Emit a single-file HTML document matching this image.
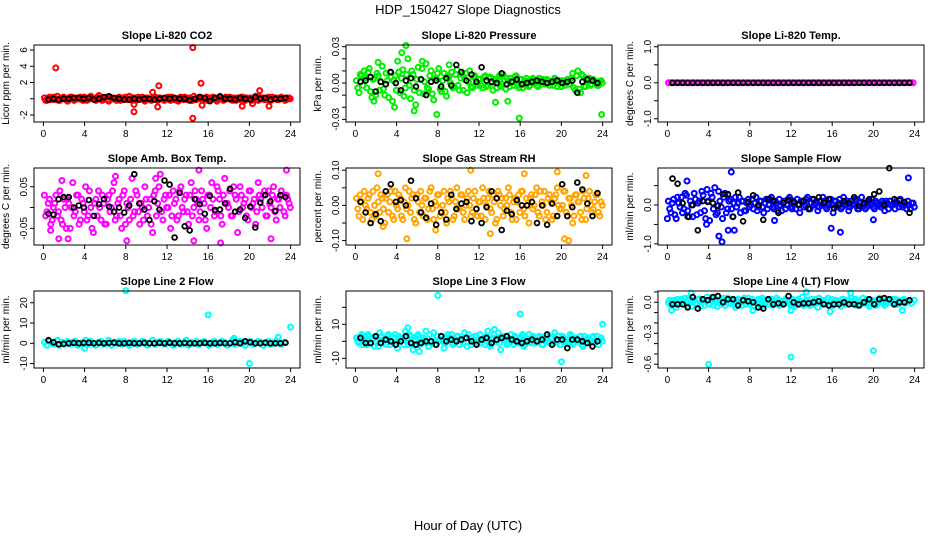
<!DOCTYPE html>
<html><head><meta charset="utf-8"><style>
html,body{margin:0;padding:0;background:#fff;}
svg{display:block;font-family:"Liberation Sans",sans-serif;}
</style></head><body>
<svg id="chart" width="936" height="540" viewBox="0 0 936 540">
<text x="468" y="14" text-anchor="middle" font-size="13">HDP_150427  Slope Diagnostics</text>
<text x="468" y="530" text-anchor="middle" font-size="13">Hour of Day (UTC)</text>
</svg>
<script>
const xTicks = [0,4,8,12,16,20,24];

const co2Band = [0.1,-0.2,0.2,0,-0.1,0.3,-0.2,0.1,0,-0.3,0.2,0.1,-0.1,0,0.2,-0.2,0.1,-0.1,0.3,0,-0.2,0.1,0,-0.1,0.2,-0.3,0.1,0,-0.2,0.2,0.1,-0.1,0,0.3,-0.2,0.1,-0.1,0,0.2,-0.3,0.1,-0.1,0,0.2,-0.2,0.1,0,-0.1,0.2,-0.2,0.1,0,-0.3,0.2,-0.1,0.1,0,-0.2,0.3,-0.1,0,0.1,-0.2,0.2,0,-0.1,0.1,-0.3,0.2,0,-0.1,0.1,0.2,-0.2,0,0.1,-0.1,0.2,-0.2,0,0.1,-0.1,0.3,-0.2,0,0.1,-0.1,0.2,-0.2,0,0.1,-0.1,0.2,0,-0.1,0.1];
const co2Band2 = [-0.2,0.1,-0.1,0.2,0,-0.2,0.1,0.2,-0.1,0,0.2,-0.2,0.1,0,-0.1,0.2,-0.2,0,0.1,-0.1,0.2,0,-0.2,0.1,-0.1,0.2,0,-0.1,0.1,-0.2,0,0.2,-0.1,0,0.1,-0.2,0.2,0,-0.1,0.1,0,-0.2,0.2,-0.1,0.1,0,-0.2,0.1,0,0.2,-0.1,-0.2,0.1,0,0.2,-0.1,0.1,-0.2,0,0.1,0.2,-0.1,0,-0.2,0.1,0.2,-0.1,0,0.1,-0.2,0.2,0,-0.1,0.1,-0.2,0,0.2,-0.1,0.1,0,-0.2,0.1,-0.1,0.2,0,-0.1,0.1,-0.2,0.2,0,-0.1,0.1,0,-0.2,0.1,0];
const co2OutHours = [1.2,14.5,15.3,11.2,10.6,21,8.8,14.5,11.1,8.8,19.3,21.9,15.4,20.3,5.4];
const co2OutVals = [3.8,6.3,1.9,1.6,0.8,1,-1.6,-2.4,-1,-0.7,-0.9,-0.9,-0.8,-0.6,0.4];
const co2Black = [-0.1,0,-0.1,0,0,0.1,0.1,0,0.1,-0.1,0,0.2,0.3,0.1,0,-0.1,-0.1,0,-0.1,0,0,-0.1,0,0.1,0,0.1,0,0,-0.2,0,0.2,0.1,-0.3,0.1,0.3,0,0,-0.1,0.1,0,-0.1,0.2,0,0.1,-0.1,0,0,0.1];

const presBand = [0.002,-0.008,0.006,0.010,-0.004,0.012,-0.012,0.004,0.008,-0.006,0.014,-0.010,0.002,0.009,-0.015,0.006,0.018,-0.008,0.011,-0.004,0.020,-0.013,0.007,-0.018,0.013,0.003,-0.009,0.016,-0.005,0.010,-0.014,0.004,0.012,-0.007,0.008,-0.011,0.005,0.009,-0.003,0.011,-0.006,0.007,0.003,-0.008,0.010,-0.004,0.006,-0.002,0.003,-0.004,0.006,-0.002,0.005,-0.006,0.002,0.004,-0.003,0.007,-0.005,0.002,0.004,-0.002,0.006,-0.004,0.003,-0.001,0.004,-0.003,0.002,0.003,-0.002,0.004,-0.001,0.002,0.003,-0.002,0.001,0.004,-0.003,0.002,0.001,-0.002,0.003,-0.001,0.008,-0.006,0.010,-0.008,0.006,-0.003,0.004,-0.002,0.003,0.001,-0.002,0.002];
const presBand2 = [-0.004,0.007,-0.002,0.004,0.009,-0.007,0.003,-0.010,0.006,0.001,-0.005,0.008,-0.012,0.005,0.002,-0.006,0.009,0.004,-0.011,0.007,-0.002,0.010,-0.006,0.003,-0.008,0.012,0.001,-0.004,0.006,-0.009,0.003,0.008,-0.005,0.002,-0.007,0.006,0.000,-0.004,0.007,-0.002,0.004,-0.006,0.008,0.001,-0.003,0.005,-0.001,0.003,-0.002,0.005,-0.003,0.004,0.000,0.003,-0.004,0.006,-0.001,0.002,0.004,-0.003,0.001,0.005,-0.002,0.003,-0.004,0.002,0.001,-0.002,0.004,0.000,-0.003,0.002,0.003,-0.001,0.002,0.000,-0.002,0.003,0.001,-0.003,0.002,0.000,-0.001,0.004,-0.004,0.006,-0.005,0.007,-0.003,0.002,0.004,-0.001,0.002,-0.002,0.001,0.000];
const presOutHours = [4.5,4.9,6.5,3.8,5.7,7.9,15.9,23.9,9.1,1.8,13.6,14.8,2.2];
const presOutVals = [0.025,0.031,0.018,-0.020,-0.023,-0.026,-0.029,-0.026,0.015,-0.015,-0.016,-0.015,0.017];
const presBlack = [0.001,0.002,0.005,-0.007,0.001,-0.001,0.009,0.000,-0.006,0.002,0.004,-0.003,0.003,-0.010,0.001,0.002,-0.003,0.004,-0.002,0.015,0.009,0.002,0.007,0.001,0.013,0.002,0.001,0.000,0.008,-0.001,0.001,0.003,-0.001,0.000,0.001,0.002,0.001,0.000,0.001,0.002,0.000,0.001,0.002,-0.008,0.001,0.003,0.002,0.000];

const tempBand = [0,0,0,0,0,0,0,0,0,0,0,0,0,0,0,0,0,0,0,0,0,0,0,0,0,0,0,0,0,0,0,0,0,0,0,0,0,0,0,0,0,0,0,0,0,0,0,0,0,0,0,0,0,0,0,0,0,0,0,0,0,0,0,0,0,0,0,0,0,0,0,0,0,0,0,0,0,0,0,0,0,0,0,0,0,0,0,0,0,0,0,0,0,0,0,0];
const tempBand2 = [];
const tempOutHours = [];
const tempOutVals = [];
const tempBlack = [0,0,0,0,0,0,0,0,0,0,0,0,0,0,0,0,0,0,0,0,0,0,0,0,0,0,0,0,0,0,0,0,0,0,0,0,0,0,0,0,0,0,0,0,0,0,0,0];

const ambBand = [0.03,-0.01,0.02,-0.03,0.01,-0.02,0.04,-0.04,0.00,0.02,-0.05,0.06,-0.01,0.03,-0.03,0.01,0.05,-0.02,0.00,-0.06,0.02,0.04,-0.03,0.01,-0.04,0.03,0.00,0.06,-0.02,0.02,-0.05,0.04,0.01,-0.03,0.07,-0.01,0.03,-0.04,0.00,0.05,-0.02,0.02,-0.06,0.04,0.01,0.08,-0.03,0.03,0.00,-0.05,0.04,0.02,-0.02,0.05,-0.01,0.03,-0.04,0.06,0.00,0.02,-0.03,0.04,0.01,-0.05,0.03,0.06,-0.02,0.05,0.02,-0.04,0.07,0.01,0.04,-0.02,0.03,-0.06,0.05,0.00,0.02,-0.03,0.04,0.01,-0.04,0.06,0.02,0.03,-0.02,0.04,0.00,0.05,-0.03,0.02,0.04,-0.01,0.03,0.01];
const ambBand2 = [-0.02,0.01,-0.04,0.00,0.03,-0.01,-0.03,0.02,-0.05,0.01,0.00,-0.02,0.03,-0.04,0.02,-0.01,-0.03,0.04,-0.05,0.01,-0.02,0.00,0.03,-0.04,0.02,-0.01,0.04,-0.03,0.01,-0.02,0.03,-0.04,0.00,0.02,-0.02,0.04,-0.01,0.01,-0.03,0.02,0.00,-0.04,0.03,-0.02,0.05,-0.01,0.02,0.00,0.03,-0.02,0.01,-0.03,0.04,0.00,0.02,-0.01,0.03,-0.02,0.04,0.01,-0.01,0.02,-0.03,0.03,0.00,0.02,-0.01,0.04,-0.02,0.03,0.01,0.00,-0.02,0.05,0.02,-0.01,0.03,0.01,-0.02,0.04,0.00,0.02,-0.01,0.03,0.00,0.04,-0.02,0.01,0.03,-0.01,0.02,0.00,0.03,-0.02,0.02,0.00];
const ambOutHours = [0.7,1.5,2.4,8.1,10.9,15.1,17.2,23.6,22.1,14.6,7.0,1.8];
const ambOutVals = [-0.055,-0.075,-0.075,-0.08,0.07,0.09,-0.085,0.09,-0.075,-0.08,0.075,0.065];
const ambBlack = [-0.015,-0.017,0.02,0.025,0.025,0.0,0.005,0.0,0.018,-0.02,0.008,0.02,0.002,-0.01,0.0,-0.012,0.005,0.08,0.01,-0.005,-0.03,0.015,-0.005,0.065,0.055,-0.072,0.035,-0.045,-0.055,0.02,0.008,-0.015,0.028,-0.006,-0.005,0.01,0.045,-0.01,-0.005,-0.025,0.002,-0.048,0.012,0.03,0.015,-0.008,0.03,0.025];

const rhBand = [0.02,-0.03,0.01,0.04,-0.01,0.03,-0.04,0.00,0.05,-0.02,0.02,-0.05,0.03,0.01,-0.03,0.04,-0.01,0.02,-0.04,0.05,0.00,-0.02,0.03,-0.05,0.01,0.04,-0.03,0.02,-0.01,0.05,-0.04,0.00,0.03,-0.02,0.04,-0.05,0.01,0.02,-0.03,0.05,-0.01,0.03,-0.04,0.02,0.00,-0.02,0.04,-0.03,0.01,0.05,-0.04,0.02,-0.01,0.03,-0.05,0.04,0.00,-0.03,0.02,0.05,-0.02,0.01,-0.04,0.03,0.04,-0.01,0.02,-0.05,0.03,0.00,0.05,-0.03,0.01,0.04,-0.02,0.03,-0.04,0.02,0.05,-0.01,0.00,0.04,-0.03,0.02,-0.05,0.03,0.01,-0.02,0.04,-0.04,0.02,0.00,-0.01,0.03,-0.02,0.01];
const rhBand2 = [-0.01,0.03,-0.04,0.00,0.02,-0.02,0.04,-0.03,0.01,0.03,-0.01,0.02,-0.02,0.04,-0.04,0.00,0.03,-0.03,0.01,-0.01,0.04,0.02,-0.04,0.03,-0.02,0.00,0.02,-0.04,0.04,-0.01,0.01,0.03,-0.03,0.00,-0.02,0.02,0.04,-0.04,0.01,-0.01,0.03,-0.02,0.00,0.04,-0.03,0.02,-0.01,0.01,-0.03,0.02,0.00,0.04,-0.02,0.01,-0.04,0.03,0.02,-0.01,0.00,0.03,-0.04,0.02,0.01,-0.02,0.04,-0.03,0.00,0.02,-0.01,0.03,-0.02,0.04,0.00,-0.04,0.02,0.01,-0.03,0.03,0.00,-0.01,0.04,-0.02,0.02,0.00,-0.03,0.03,0.01,-0.04,0.02,-0.01,0.04,-0.02,0.01,0.03,-0.03,0.00];
const rhOutHours = [2.2,5.0,11.2,19.6,16.4,20.3,20.7,22.4,2.7,13.1,7.8];
const rhOutVals = [0.09,-0.095,0.10,0.095,0.09,-0.095,-0.1,0.085,-0.06,-0.08,-0.07];
const rhBlack = [0.01,-0.02,-0.05,-0.025,-0.045,0.04,0.06,0.01,0.015,0.0,0.07,0.02,-0.02,-0.035,0.005,-0.055,-0.02,-0.04,0.03,-0.01,0.005,0.01,-0.045,-0.01,-0.05,-0.005,0.04,0.02,-0.07,-0.015,-0.025,0.015,0.0,0.0,0.01,-0.05,0.0,-0.055,0.005,-0.03,0.06,-0.03,-0.005,0.065,0.045,0.005,-0.03,0.035];

const flowBand = [0.1,-0.2,0.15,-0.35,0.05,0.2,-0.1,0.25,-0.3,0.0,0.3,-0.25,0.1,0.35,-0.15,0.4,-0.4,0.2,0.45,-0.2,0.1,-0.35,0.3,-0.1,0.15,-0.3,0.2,0.05,-0.2,0.1,-0.15,0.15,0.0,-0.1,0.2,-0.05,0.1,-0.2,0.15,0.0,0.2,-0.1,0.05,0.15,-0.15,0.1,0.0,0.2,-0.1,0.05,0.15,-0.2,0.1,0.0,0.2,-0.1,0.15,0.05,-0.15,0.1,0.2,-0.05,0.0,0.15,-0.2,0.1,0.05,-0.1,0.2,0.0,-0.15,0.1,0.05,0.15,-0.1,0.2,0.0,-0.05,0.1,0.15,-0.1,0.05,0.0,0.1,-0.15,0.05,0.1,0.0,-0.1,0.05,0.15,-0.05,0.0,0.1,-0.1,0.05];
const flowBand2 = [-0.1,0.05,-0.25,0.2,-0.05,-0.2,0.3,-0.15,0.1,-0.3,0.15,0.05,-0.2,0.25,-0.35,0.1,0.3,-0.1,-0.25,0.35,-0.05,0.2,-0.2,0.1,-0.1,0.05,-0.05,0.2,0.1,-0.15,0.05,-0.05,0.15,0.05,-0.15,0.1,-0.05,0.05,-0.1,0.15,-0.05,0.1,-0.15,0.0,0.05,-0.1,0.15,-0.05,0.1,-0.1,0.0,0.1,-0.05,0.15,-0.1,0.05,0.0,0.1,-0.05,0.0,0.1,-0.1,0.05,0.0,0.1,-0.05,0.15,-0.05,0.05,0.1,-0.05,0.0,0.15,-0.1,0.05,0.0,-0.1,0.1,0.05,-0.05,0.1,0.0,-0.05,0.05,0.1,-0.1,0.0,0.05,0.1,-0.05,0.0,0.05,-0.1,0.0,0.05,-0.05];
const flowOutHours = [5.3,5.0,6.5,5.9,15.9,16.8,1.9,6.2,23.4,3.8,0.0,10.4,20.0];
const flowOutVals = [-0.95,-0.8,-0.65,-0.65,-0.6,-0.7,0.62,0.85,0.7,-0.5,-0.35,-0.4,-0.38];
const flowBlack = [0.68,0.55,0.05,-0.3,0.0,-0.65,0.1,0.08,0.05,-0.02,0.28,0.28,-0.3,0.32,-0.42,0.08,0.25,0.0,-0.38,0.15,0.1,-0.2,0.05,0.12,0.08,0.02,0.1,-0.1,0.15,0.2,0.05,0.15,-0.08,0.0,0.1,0.05,0.2,-0.02,0.05,0.15,0.28,0.35,0.0,0.95,0.15,0.12,0.08,-0.2];

const l2Band = [0.5,-1,1,0,-0.5,1.5,-1,0.5,0,1,-0.5,0.5,1,-1,0,0.5,1.5,-0.5,1,0,-1,0.5,1,-0.5,0,1.5,-1,0.5,0,1,-0.5,1,0,-1,0.5,1,-0.5,0,1,0.5,-1,0,1.5,-0.5,0.5,1,0,-0.5,1,0,-1,0.5,1,-0.5,0,1.5,-1,0.5,0,1,-0.5,0.5,1,0,-1,0.5,1,-0.5,0,1,0.5,-1,0,1.5,-0.5,0.5,1,0,-1,0.5,1,-0.5,0,1,0.5,-1,0,1,-0.5,0.5,1,0,-0.5,0.5];
const l2Band2 = [];
const l2OutHours = [8,16,24,20,4,18.5,22.8];
const l2OutVals = [26,14,8,-10,-2.5,2.5,3];
const l2Black = [1.5,0.5,-0.5,-0.3,0,0.2,0,0.2,0.3,0,0.2,0,0.2,0.3,0,0,0.2,0,0,0.2,0,0,0.2,0,0.3,0,0,0.2,0,0,0,0.2,0,0,0.2,0,0,0.5,0,1,0.5,0,0,0.3,0,0,0,0.3];

const l3Band = [2,-1,4,0,-2,3,1,-3,2,5,-1,1,3,-2,0,4,-4,2,1,6,-2,3,-5,1,4,-1,2,6,-3,0,5,-2,1,3,-4,2,0,4,-1,3,-2,1,5,-3,2,0,3,-1,4,1,-2,6,-3,2,0,5,-5,1,3,-1,4,-2,2,0,3,-3,1,4,-1,2,0,3,-2,1,4,-1,2,5,0,-2,3,1,-1,4,-2,2,0,3,-3,1,2,-1,3,0,-2,2];
const l3Band2 = [0,3,-2,1,4,-1,2,0,-3,3,1,-2,4,0,2,-1,3,1,-2,2,4,-1,0,3,-2,2,1,-1,4,2,-2,3,0,1,-1,4,2,-2,1,3,0,-1,2,4,-2,1,3,0,-1,2,3,-2,1,4,0,-1,3,2,-2,1,0,3,-1,2,4,-2,1,0,3,-1,2,1,-2,3,0,2,-1,1,3,-2,2,0,1,3,-1,2,0,-2,3,1,0,2,-1,3,1,0];
const l3OutHours = [8,16,24,20,13.5,6.2,5.1];
const l3OutVals = [27,16,10,-12,7,-6,8];
const l3Black = [2,-1,-1,3,-1,1,0,-2,0,3,-1,-2,-1,0,0,-2,3,0,1,0,1,2,0,-2,1,2,-1,1,2,3,1,0,-1,0,1,0,1,4,-2,1,1,-4,1,1,0,-1,-3,0];

const l4Band = [0.0,-0.03,0.02,-0.05,0.01,0.03,-0.02,0.0,0.04,-0.04,0.02,-0.01,0.03,0.0,-0.03,0.05,-0.02,0.01,0.03,-0.04,0.0,0.02,-0.03,0.04,-0.01,0.01,-0.05,0.03,0.0,0.02,-0.02,0.04,0.01,-0.03,0.0,0.03,-0.04,0.02,0.0,-0.02,0.03,-0.01,0.04,-0.03,0.01,0.0,0.02,-0.02,0.03,-0.04,0.01,0.0,0.05,-0.02,0.02,-0.03,0.0,0.03,-0.05,0.01,0.02,-0.01,0.04,0.0,-0.03,0.02,0.01,-0.04,0.03,0.0,-0.02,0.04,0.01,-0.03,0.02,0.0,-0.01,0.03,-0.04,0.02,0.01,-0.02,0.04,0.0,-0.03,0.02,0.01,-0.01,0.03,-0.02,0.0,0.02,-0.01,0.01];
const l4Band2 = [0.02,0.0,-0.02,0.03,-0.01,0.01,0.04,-0.03,0.02,0.0,-0.02,0.03,-0.04,0.01,0.02,-0.01,0.03,-0.03,0.0,0.02,-0.02,0.04,0.0,-0.01,0.03,-0.02,0.02,0.0,-0.03,0.04,0.01,-0.02,0.03,0.0,-0.01,0.02,0.04,-0.02,0.01,0.03,-0.03,0.0,0.02,0.01,-0.02,0.03,0.0,0.01,-0.02,0.02,0.03,-0.01,-0.03,0.02,0.0,0.03,-0.02,0.01,0.04,-0.01,0.0,0.02,-0.03,0.03,0.01,-0.01,0.0,0.03,-0.02,0.02,0.01,-0.01,0.03,0.0,-0.02,0.04,0.01,-0.02,0.02,0.0,-0.03,0.03,0.01,-0.01,0.02,0.0,0.03,-0.02,0.01,0.02,-0.01,0.03,0.0,0.01,-0.01,0.02];
const l4OutHours = [4,12,20,0.4,8.3,12,15.8,22.8,13.5,17.8,2.3];
const l4OutVals = [-0.6,-0.53,-0.47,-0.08,-0.08,-0.08,-0.09,-0.08,0.1,0.09,0.09];
const l4Black = [-0.02,-0.02,-0.02,-0.05,0.05,-0.06,0.03,0.02,0.05,0.06,0.0,0.03,0.03,-0.03,0.02,0.01,0.0,-0.05,-0.06,0.03,-0.02,-0.01,-0.02,0.06,0.0,-0.02,-0.01,-0.01,0.0,0.01,-0.02,-0.03,-0.02,-0.02,0.0,-0.02,-0.02,-0.03,0.0,0.03,-0.02,0.03,0.04,0.03,-0.02,0.0,0.0,0.02];

const NS = "http://www.w3.org/2000/svg";
const svg = document.getElementById('chart');
function mk(tag, attrs, parent){const e=document.createElementNS(NS,tag);for(const k in attrs)e.setAttribute(k,attrs[k]);parent.appendChild(e);return e;}

const panels = [
 {key:'co2',title:'Slope Li-820 CO2',ylab:'Licor ppm per min.',col:0,row:0,color:'#ff0000',ylim:[-2.86,6.615],ticks:[-2,0,2,4,6],labels:['-2','','2','4','6'],band:co2Band,band2:co2Band2,oh:co2OutHours,ov:co2OutVals,blk:co2Black},
 {key:'pressure',title:'Slope Li-820 Pressure',ylab:'kPa per min.',col:1,row:0,color:'#00ee00',ylim:[-0.0322,0.0314],ticks:[-0.03,-0.02,-0.01,0,0.01,0.02,0.03],labels:['-0.03','','','0.00','','','0.03'],band:presBand,band2:presBand2,oh:presOutHours,ov:presOutVals,blk:presBlack},
 {key:'li820-temp',title:'Slope Li-820 Temp.',ylab:'degrees C per min.',col:2,row:0,color:'#ff00ff',ylim:[-1.09,1.05],ticks:[-1,-0.5,0,0.5,1],labels:['-1.0','','0.0','','1.0'],band:tempBand,band2:tempBand2,oh:tempOutHours,ov:tempOutVals,blk:tempBlack},
 {key:'amb-box-temp',title:'Slope Amb. Box Temp.',ylab:'degrees C per min.',col:0,row:1,color:'#ff00ff',ylim:[-0.090,0.095],ticks:[-0.05,0,0.05],labels:['-0.05','','0.05'],band:ambBand,band2:ambBand2,oh:ambOutHours,ov:ambOutVals,blk:ambBlack},
 {key:'gas-stream-rh',title:'Slope Gas Stream RH',ylab:'percent per min.',col:1,row:1,color:'#ffa500',ylim:[-0.1125,0.1062],ticks:[-0.1,-0.05,0,0.05,0.1],labels:['-0.10','','0.00','','0.10'],band:rhBand,band2:rhBand2,oh:rhOutHours,ov:rhOutVals,blk:rhBlack},
 {key:'sample-flow',title:'Slope Sample Flow',ylab:'ml/min per min.',col:2,row:1,color:'#0000ff',ylim:[-1.03,0.954],ticks:[-1,-0.5,0,0.5],labels:['-1.0','','0.0',''],band:flowBand,band2:flowBand2,oh:flowOutHours,ov:flowOutVals,blk:flowBlack},
 {key:'line2-flow',title:'Slope Line 2 Flow',ylab:'ml/min per min.',col:0,row:2,color:'#00ffff',ylim:[-12.2,25.8],ticks:[-10,0,10,20],labels:['-10','0','10','20'],band:l2Band,band2:l2Band2,oh:l2OutHours,ov:l2OutVals,blk:l2Black},
 {key:'line3-flow',title:'Slope Line 3 Flow',ylab:'ml/min per min.',col:1,row:2,color:'#00ffff',ylim:[-15.7,29.6],ticks:[-10,0,10,20],labels:['-10','','10',''],band:l3Band,band2:l3Band2,oh:l3OutHours,ov:l3OutVals,blk:l3Black},
 {key:'line4-flow',title:'Slope Line 4 (LT) Flow',ylab:'ml/min per min.',col:2,row:2,color:'#00ffff',ylim:[-0.636,0.109],ticks:[0.1,0,-0.1,-0.2,-0.3,-0.4,-0.5,-0.6],labels:['','0.0','','','-0.3','','','-0.6'],band:l4Band,band2:l4Band2,oh:l4OutHours,ov:l4OutVals,blk:l4Black}
];
const colLeft=[34,346,658], rowTop=[45,168,291], W=266, H=77;

panels.forEach(p=>{
  const L=colLeft[p.col], T=rowTop[p.row], B=T+H;
  const xs=h=>L+9.4+h*(247.2/24);
  const ys=v=>B-(v-p.ylim[0])/(p.ylim[1]-p.ylim[0])*H;
  const g=mk('g',{},svg);
  
  
  const t=mk('text',{x:L+W/2,y:T-6,'text-anchor':'middle','font-size':11,'font-weight':'bold'},g);
  t.textContent=p.title;
  
  
  const yl=mk('text',{x:0,y:0,'text-anchor':'middle','font-size':10,transform:`translate(${L-25},${T+H/2}) rotate(-90)`},g);
  yl.textContent=p.ylab;
  
  
  const pts=mk('g',{fill:'none',stroke:p.color,'stroke-width':2},g);
  
  
  p.band.forEach((v,i)=>{
    const h=0.1+i*0.25;
    const c=mk('circle',{cx:xs(h).toFixed(1),cy:ys(v).toFixed(1),r:2.5},pts);
    
    
  });
  p.band2.forEach((v,i)=>{
    const h=0.22+i*0.25;
    const c=mk('circle',{cx:xs(h).toFixed(1),cy:ys(v).toFixed(1),r:2.5},pts);
    
    
  });
  p.oh.forEach((h,i)=>{
    const c=mk('circle',{cx:xs(h).toFixed(1),cy:ys(p.ov[i]).toFixed(1),r:2.5},pts);
    
    
  });
  const bk=mk('g',{fill:'none',stroke:'#000','stroke-width':1.8},g);
  
  
  p.blk.forEach((v,i)=>{
    const h=0.5+i*0.4895;
    const c=mk('circle',{cx:xs(h).toFixed(1),cy:ys(v).toFixed(1),r:2.4},bk);
    
    
  });
  const fr=mk('rect',{x:L,y:T,width:W,height:H,fill:'none',stroke:'#000','stroke-width':1},g);
  
  
  xTicks.forEach(h=>{
    const x=xs(h);
    mk('line',{x1:x,y1:B,x2:x,y2:B+4,stroke:'#000'},g);
    const tl=mk('text',{x:x,y:B+15,'text-anchor':'middle','font-size':10},g);
    tl.textContent=h;
    
    
  });
  p.ticks.forEach((v,i)=>{
    const y=ys(v);
    mk('line',{x1:L-4,y1:y,x2:L,y2:y,stroke:'#000'},g);
    if(p.labels[i]){
      const tl=mk('text',{x:0,y:0,'text-anchor':'middle','font-size':10,transform:`translate(${L-7},${y}) rotate(-90)`},g);
      tl.textContent=p.labels[i];
      
      
    }
  });
});
</script>
</body></html>
